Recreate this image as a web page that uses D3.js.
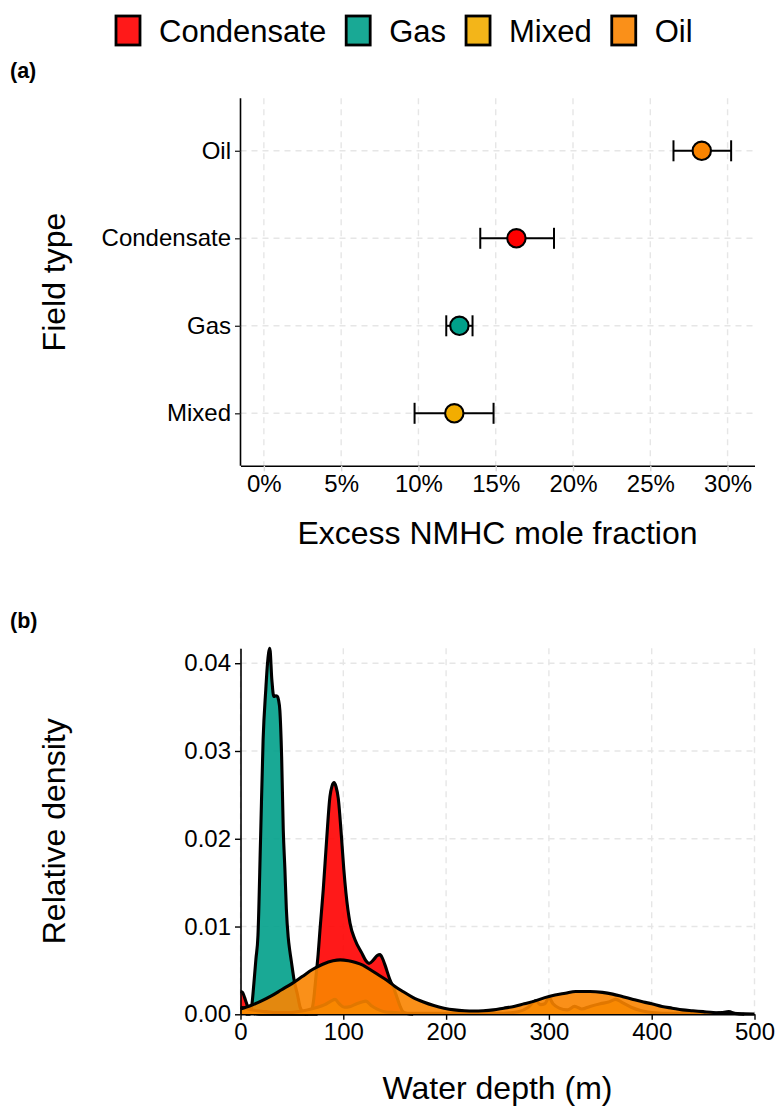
<!DOCTYPE html>
<html>
<head>
<meta charset="utf-8">
<script src="https://cdn.jsdelivr.net/npm/d3@7"></script>
<style>
  html, body { margin: 0; padding: 0; background: #ffffff; }
  svg { display: block; }
  text { font-family: "Liberation Sans", Arial, Helvetica, sans-serif; fill: #000; }
</style>
</head>
<body>
<svg id="chart" width="776" height="1107"></svg>
<script>
// ---------------- DATA ----------------
const categories = ["Condensate", "Gas", "Mixed", "Oil"];
const categoryColors = ["#FF0000", "#00A08A", "#F2AD00", "#F98400"];
const fieldOrderTopToBottom = ["Oil", "Condensate", "Gas", "Mixed"];

// Panel (a): excess NMHC mole fraction (%) per field type, with error bars
const meanPct = [16.34, 12.65, 12.32, 28.33];
const lowPct  = [14.0, 11.8, 9.75, 26.5];
const highPct = [18.77, 13.5, 14.86, 30.23];
const xTicksA = [0, 5, 10, 15, 20, 25, 30];

// Panel (b): relative density vs water depth (m), [depth, density]
const condensateDensity = [[0,0.0026],[2,0.0025],[4,0.0019],[6,0.0012],[8,0.0006],[10,0.0003],[13,0.0001],[18,0],[60,0],[66,0.0001],[69,0.0004],[71,0.0015],[73.4,0.0043],[75.5,0.0068],[77.3,0.0096],[80.5,0.0142],[83.8,0.0199],[87,0.0248],[89,0.0260],[91,0.0264],[93,0.0259],[95.1,0.0246],[98.4,0.0199],[100.5,0.0165],[102.6,0.0138],[106.5,0.0104],[111.4,0.0085],[117.9,0.0070],[122,0.0061],[125,0.0058],[129.3,0.0062],[133,0.0067],[135.7,0.0068],[138,0.0064],[140.6,0.0056],[145.5,0.0039],[149,0.0030],[152,0.0020],[155,0.0010],[158,0.0003],[162,0.0001],[168,0]];
const gasDensity = [[5,0],[9,0],[11,0.001],[13,0.0035],[15,0.0063],[17,0.009],[19.5,0.0199],[22,0.0313],[24.6,0.0370],[26.3,0.0400],[28.5,0.0417],[30.5,0.0381],[32.4,0.0362],[34.4,0.0363],[36,0.0362],[37,0.0358],[38.3,0.0346],[40,0.0294],[41.6,0.0210],[43.2,0.0165],[44.6,0.0120],[46.4,0.0088],[48,0.0072],[49.5,0.0060],[52,0.0040],[55.5,0.0022],[58,0.0008],[61,0.0002],[65,0],[75,0]];
const mixedDensity = [[0,0.0008],[8,0.0006],[16,0.0004],[25,0.0003],[35,0.0002],[45,0.0002],[55,0.0003],[65,0.0005],[75,0.0008],[82,0.0011],[88,0.0015],[92,0.0017],[96,0.0012],[101,0.0008],[107,0.0009],[113,0.0012],[118,0.0014],[122,0.0015],[127,0.0010],[133,0.0006],[140,0.0003],[150,0.0002],[170,0.0001],[210,0.0001],[250,0.0001],[270,0.0003],[280,0.0008],[287,0.00155],[292,0.0011],[296,0.0012],[300,0.0019],[304,0.0012],[310,0.0007],[318,0.0005],[325,0.0009],[332,0.0006],[340,0.0009],[350,0.0012],[358,0.0014],[365,0.0017],[372,0.0013],[380,0.0008],[390,0.0004],[400,0.0002],[420,0.0001],[460,0.0001],[468,0.0002],[475,0.0003],[481,0.0001],[490,0]];
const oilDensity = [[0,0.0006],[10,0.0010],[20,0.0015],[30,0.0021],[40,0.0028],[50,0.0035],[60,0.0043],[70,0.0051],[80,0.0057],[90,0.0061],[97,0.0062],[105,0.0061],[112,0.0059],[119,0.0056],[126,0.0051],[134,0.0045],[142,0.0039],[150,0.0032],[158,0.0026],[168,0.0019],[178,0.0014],[188,0.0010],[198,0.0007],[208,0.0005],[218,0.0004],[227,0.00037],[236,0.0004],[246,0.0005],[256,0.0007],[266,0.0009],[276,0.0012],[286,0.0015],[296,0.0019],[306,0.0022],[316,0.0024],[326,0.0026],[340,0.0026],[352,0.0025],[362,0.0023],[372,0.0020],[382,0.0017],[392,0.0014],[400,0.0012],[410,0.0009],[420,0.0007],[430,0.0005],[440,0.0004],[450,0.0003],[460,0.0002],[470,0.00015],[480,0.0001],[490,0.00005],[500,0.00003]];
const xTicksB = [0, 100, 200, 300, 400, 500];
const yTicksB = [0, 0.01, 0.02, 0.03, 0.04];

// ---------------- LAYOUT ----------------
const svg = d3.select("#chart");
const left = 240.5, right = 754.5;
const gridColor = "#e6e6e6";
const tickFont = 24, titleFont = 32;
const axisW = 1.6;

// ---------------- LEGEND ----------------
(function legend() {
  const g = svg.append("g");
  let x = 116;
  categories.forEach((c, i) => {
    g.append("rect").attr("x", x).attr("y", 16).attr("width", 24).attr("height", 29)
      .attr("fill", categoryColors[i]).attr("fill-opacity", 0.9)
      .attr("stroke", "#000").attr("stroke-width", 2.8);
    const t = g.append("text").attr("x", x + 43).attr("y", 42)
      .style("font-size", "31px").text(c);
    x += 43 + t.node().getComputedTextLength() + 20;
  });
})();

// ---------------- PANEL (a) ----------------
(function panelA() {
  const top = 98.3, bottom = 465.8;
  const x = d3.scaleLinear()
    .domain([0 - 0.05 * d3.max(highPct), d3.max(highPct) * 1.05])
    .range([left, right]);
  const y = d3.scalePoint().domain(fieldOrderTopToBottom).range([top, bottom]).padding(0.6);
  const g = svg.append("g");

  // grid
  g.append("g").selectAll("line.v").data(xTicksA).join("line")
    .attr("x1", d => x(d)).attr("x2", d => x(d)).attr("y1", top).attr("y2", bottom)
    .attr("stroke", gridColor).attr("stroke-width", 1.4).attr("stroke-dasharray", "6,5");
  g.append("g").selectAll("line.h").data(fieldOrderTopToBottom).join("line")
    .attr("x1", left).attr("x2", right).attr("y1", d => y(d)).attr("y2", d => y(d))
    .attr("stroke", gridColor).attr("stroke-width", 1.4).attr("stroke-dasharray", "6,5");

  // axes
  const xAxis = g.append("g").attr("transform", `translate(0,${bottom})`)
    .call(d3.axisBottom(x).tickValues(xTicksA).tickFormat(d => d + "%").tickSize(5.5).tickSizeOuter(0).tickPadding(4));
  xAxis.select(".domain").attr("stroke", "#000").attr("stroke-width", axisW);
  xAxis.selectAll(".tick line").attr("stroke", "#d9d9d9").attr("stroke-width", 1.4);
  xAxis.selectAll(".tick text").style("font-size", tickFont + "px")
    .style("font-family", '"Liberation Sans", Arial, sans-serif').attr("fill", "#000");

  const yAxis = g.append("g").attr("transform", `translate(${left},0)`)
    .call(d3.axisLeft(y).tickSize(5.5).tickSizeOuter(0).tickPadding(4));
  yAxis.select(".domain").attr("stroke", "#000").attr("stroke-width", axisW)
    .attr("d", `M0,${top}V${bottom}`);
  yAxis.selectAll(".tick line").attr("stroke", "#333").attr("stroke-width", 1.4);
  yAxis.selectAll(".tick text").style("font-size", tickFont + "px")
    .style("font-family", '"Liberation Sans", Arial, sans-serif').attr("fill", "#000");

  // error bars + points
  const rows = categories.map((c, i) => ({ c, mean: meanPct[i], lo: lowPct[i], hi: highPct[i], color: categoryColors[i] }));
  const eb = g.append("g").attr("stroke", "#000").attr("stroke-width", 2).attr("fill", "none");
  rows.forEach(r => {
    const yy = y(r.c);
    eb.append("line").attr("x1", x(r.lo)).attr("x2", x(r.hi)).attr("y1", yy).attr("y2", yy);
    eb.append("line").attr("x1", x(r.lo)).attr("x2", x(r.lo)).attr("y1", yy - 10.5).attr("y2", yy + 10.5);
    eb.append("line").attr("x1", x(r.hi)).attr("x2", x(r.hi)).attr("y1", yy - 10.5).attr("y2", yy + 10.5);
  });
  g.append("g").selectAll("circle").data(rows).join("circle")
    .attr("cx", d => x(d.mean)).attr("cy", d => y(d.c)).attr("r", 9.2)
    .attr("fill", d => d.color).attr("stroke", "#000").attr("stroke-width", 2.1);

  // titles
  svg.append("text").attr("x", (left + right) / 2).attr("y", 544).attr("text-anchor", "middle")
    .style("font-size", titleFont + "px").text("Excess NMHC mole fraction");
  svg.append("text").attr("transform", `translate(65,${(top + bottom) / 2}) rotate(-90)`)
    .attr("text-anchor", "middle").style("font-size", titleFont + "px").text("Field type");
  svg.append("text").attr("x", 10).attr("y", 78).style("font-size", "21.5px").style("font-weight", "bold").text("(a)");
})();

// ---------------- PANEL (b) ----------------
(function panelB() {
  const top = 648.3, bottom = 1014.3;
  const allDens = [condensateDensity, gasDensity, mixedDensity, oilDensity];
  const x = d3.scaleLinear().domain([0, 500]).range([left, right]);
  const y = d3.scaleLinear().domain([0, d3.max(allDens.flat(), d => d[1])]).range([bottom, top]);
  const g = svg.append("g");

  // grid
  g.append("g").selectAll("line").data(xTicksB).join("line")
    .attr("x1", d => x(d)).attr("x2", d => x(d)).attr("y1", top).attr("y2", bottom)
    .attr("stroke", gridColor).attr("stroke-width", 1.4).attr("stroke-dasharray", "6,5");
  g.append("g").selectAll("line").data(yTicksB).join("line")
    .attr("x1", left).attr("x2", right).attr("y1", d => y(d)).attr("y2", d => y(d))
    .attr("stroke", gridColor).attr("stroke-width", 1.4).attr("stroke-dasharray", "6,5");

  // densities: fill then upper outline, group by group
  const area = d3.area().x(d => x(d[0])).y0(y(0)).y1(d => y(d[1])).curve(d3.curveMonotoneX);
  const line = d3.line().x(d => x(d[0])).y(d => y(d[1])).curve(d3.curveMonotoneX);
  const dg = g.append("g");
  allDens.forEach((dens, i) => {
    dg.append("path").attr("d", area(dens)).attr("fill", categoryColors[i]).attr("fill-opacity", 0.9);
    dg.append("path").attr("d", line(dens)).attr("fill", "none").attr("stroke", "#000")
      .attr("stroke-width", 3.1).attr("stroke-linejoin", "round");
  });

  // axes
  const xAxis = g.append("g").attr("transform", `translate(0,${bottom})`)
    .call(d3.axisBottom(x).tickValues(xTicksB).tickSize(5.5).tickSizeOuter(0).tickPadding(3));
  xAxis.select(".domain").attr("stroke", "#000").attr("stroke-width", axisW);
  xAxis.selectAll(".tick line").attr("stroke", "#000").attr("stroke-width", 1.4);
  xAxis.selectAll(".tick text").style("font-size", tickFont + "px")
    .style("font-family", '"Liberation Sans", Arial, sans-serif').attr("fill", "#000");

  const yAxis = g.append("g").attr("transform", `translate(${left},0)`)
    .call(d3.axisLeft(y).tickValues(yTicksB).tickFormat(d3.format(".2f")).tickSize(5.5).tickSizeOuter(0).tickPadding(4));
  yAxis.select(".domain").attr("stroke", "#000").attr("stroke-width", axisW);
  yAxis.selectAll(".tick line").attr("stroke", "#000").attr("stroke-width", 1.4);
  yAxis.selectAll(".tick text").style("font-size", tickFont + "px")
    .style("font-family", '"Liberation Sans", Arial, sans-serif').attr("fill", "#000");

  // titles
  svg.append("text").attr("x", (left + right) / 2).attr("y", 1099).attr("text-anchor", "middle")
    .style("font-size", titleFont + "px").text("Water depth (m)");
  svg.append("text").attr("transform", `translate(65,${(top + bottom) / 2}) rotate(-90)`)
    .attr("text-anchor", "middle").style("font-size", titleFont + "px").text("Relative density");
  svg.append("text").attr("x", 10).attr("y", 628).style("font-size", "21.5px").style("font-weight", "bold").text("(b)");
})();
</script>
</body>
</html>
